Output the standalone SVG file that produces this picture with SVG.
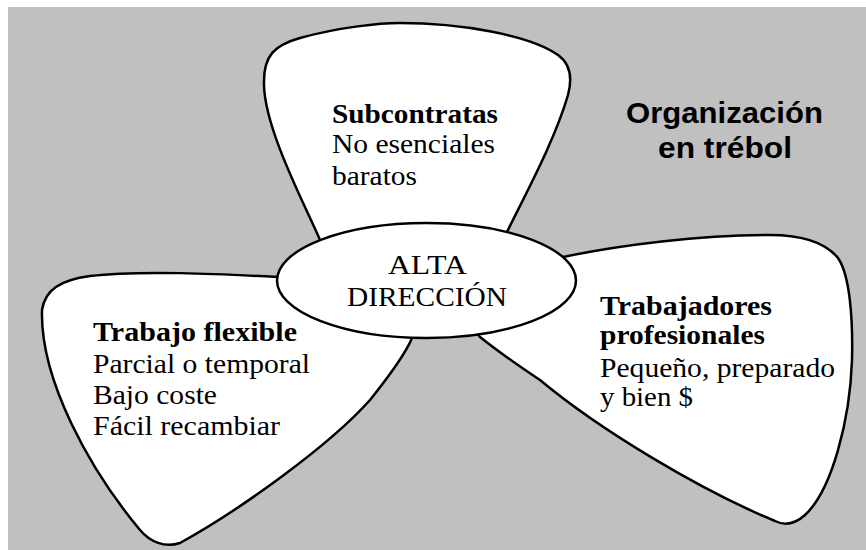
<svg xmlns="http://www.w3.org/2000/svg" width="866" height="550" viewBox="0 0 866 550">
<style>
.petal{fill:#fff;stroke:#000;stroke-width:2.5;stroke-linejoin:round}
.core{fill:#fff;stroke:#000;stroke-width:2.5}
.t{font-family:"Liberation Serif","Times New Roman",serif;font-size:28px;fill:#000}
.b{font-weight:bold}
.title{font-family:"Liberation Sans",Arial,sans-serif;font-size:30px;font-weight:bold;fill:#000;text-anchor:middle}
</style>
<rect x="0" y="0" width="866" height="550" fill="#fff"/>
<rect x="8" y="7" width="858" height="543" fill="#c0c0c0"/>
<g id="subcontratas">
<path class="petal" d="M320,240 C305,205 265,130 264,85 C263,55 275,45 300,38 C340,27 380,23 400,23 C460,23 530,35 558,55 C572,65 572,80 568,95 C555,140 525,195 507,232 L426,280 Z"/>
<text class="t b" x="332" y="123" textLength="166" lengthAdjust="spacingAndGlyphs">Subcontratas</text>
<text class="t" x="332" y="153" textLength="163" lengthAdjust="spacingAndGlyphs">No esenciales</text>
<text class="t" x="332" y="185" textLength="85" lengthAdjust="spacingAndGlyphs">baratos</text>
</g>
<g id="trabajo-flexible">
<path class="petal" d="M278,277 C220,274 140,270 90,276 C60,280 45,290 42,310 C40,380 90,470 140,530 C150,542 165,548 180,543 C240,510 330,445 370,400 C390,375 405,355 412,338 L426,280 Z"/>
<text class="t b" x="93" y="341" textLength="204" lengthAdjust="spacingAndGlyphs">Trabajo flexible</text>
<text class="t" x="93" y="373" textLength="217" lengthAdjust="spacingAndGlyphs">Parcial o temporal</text>
<text class="t" x="93" y="404" textLength="124" lengthAdjust="spacingAndGlyphs">Bajo coste</text>
<text class="t" x="93" y="435" textLength="187" lengthAdjust="spacingAndGlyphs">Fácil recambiar</text>
</g>
<g id="trabajadores-profesionales">
<path class="petal" d="M563,257 C620,245 700,235 770,235 C800,235 825,242 838,258 C850,275 853,320 852,360 C850,420 832,490 805,515 C795,524 785,526 775,521 C700,490 600,430 540,380 C510,360 490,345 480,337 L426,280 Z"/>
<text class="t b" x="600" y="315" textLength="172" lengthAdjust="spacingAndGlyphs">Trabajadores</text>
<text class="t b" x="600" y="344" textLength="165" lengthAdjust="spacingAndGlyphs">profesionales</text>
<text class="t" x="600" y="377" textLength="235" lengthAdjust="spacingAndGlyphs">Pequeño, preparado</text>
<text class="t" x="600" y="406" textLength="93" lengthAdjust="spacingAndGlyphs">y bien $</text>
</g>
<g id="alta-direccion">
<ellipse class="core" cx="426.5" cy="280.5" rx="149.5" ry="57.5"/>
<text class="t" x="427.5" y="274" text-anchor="middle" textLength="79" lengthAdjust="spacingAndGlyphs">ALTA</text>
<text class="t" x="427" y="306" text-anchor="middle" textLength="160" lengthAdjust="spacingAndGlyphs">DIRECCIÓN</text>
</g>
<g id="titulo">
<text class="title" x="724.5" y="123" textLength="197" lengthAdjust="spacingAndGlyphs">Organización</text>
<text class="title" x="725" y="158" textLength="134" lengthAdjust="spacingAndGlyphs">en trébol</text>
</g>
<g id="connectors"></g>
</svg>
